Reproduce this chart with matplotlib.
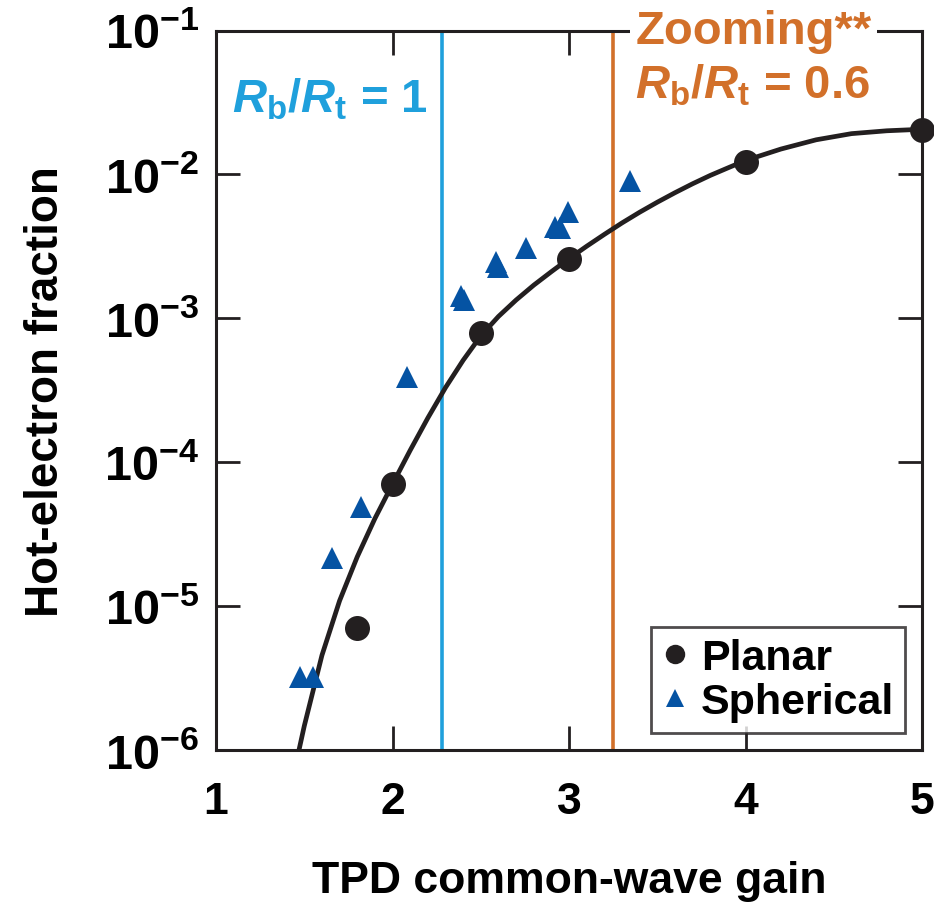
import matplotlib
matplotlib.use('Agg')
from matplotlib import pyplot as plt
from matplotlib.lines import Line2D

# values
planar_x = [1.8, 2.0, 2.5, 3.0, 4.0, 5.0]
planar_y = [7.1e-6, 7.1e-5, 7.85e-4, 2.57e-3, 1.22e-2, 2.03e-2]

spher_x = [1.475, 1.547, 1.658, 1.819, 2.083, 2.39, 2.404, 2.588, 2.60, 2.758, 2.918, 2.947, 2.994, 3.343]
spher_y = [3.2e-6, 3.2e-6, 2.16e-5, 4.9e-5, 3.88e-4, 1.43e-3, 1.35e-3, 2.45e-3, 2.29e-3,
           3.1e-3, 4.34e-3, 4.27e-3, 5.46e-3, 9.0e-3]

# fitted curve
fit_x = [1.47, 1.5, 1.6, 1.7, 1.8, 1.9, 2.0, 2.1, 2.2, 2.3, 2.4, 2.5, 2.6, 2.7, 2.8, 2.9,
         3.0, 3.1, 3.2, 3.3, 3.4, 3.5, 3.6, 3.7, 3.8, 3.9, 4.0, 4.2, 4.4, 4.6, 4.8, 5.0]
fit_y = [1.0e-6, 1.47e-6, 4.55e-6, 1.09e-5, 2.20e-5, 4.06e-5, 7.05e-5, 1.21e-4, 2.03e-4,
         3.30e-4, 5.11e-4, 7.55e-4, 1.03e-3, 1.34e-3, 1.70e-3, 2.11e-3, 2.60e-3, 3.17e-3,
         3.83e-3, 4.60e-3, 5.46e-3, 6.41e-3, 7.46e-3, 8.61e-3, 9.84e-3, 1.11e-2, 1.25e-2,
         1.50e-2, 1.74e-2, 1.92e-2, 2.01e-2, 2.06e-2]

blue_x = 2.28
orange_x = 3.25

xticks = [1, 2, 3, 4, 5]
yticks = [1e-6, 1e-5, 1e-4, 1e-3, 1e-2, 1e-1]
ytick_labels = [r'$\mathbf{10^{-%d}}$' % k for k in [6, 5, 4, 3, 2, 1]]

plt.rcParams['font.family'] = ['Liberation Sans', 'DejaVu Sans']
plt.rcParams['font.weight'] = 'bold'
plt.rcParams['mathtext.fontset'] = 'custom'
plt.rcParams['mathtext.rm'] = 'Liberation Sans:bold'
plt.rcParams['mathtext.bf'] = 'Liberation Sans:bold'
plt.rcParams['mathtext.it'] = 'Liberation Sans:bold:italic'

black = '#231f20'
blue = '#1fa0dc'
orange = '#d2702a'
tri = '#0553a3'

fig = plt.figure(figsize=(9.34, 9.03), dpi=100)
ax = fig.add_axes([0.2313, 0.1683, 0.7559, 0.7968])
ax.set_yscale('log')
ax.set_xlim(1, 5)
ax.set_ylim(1e-6, 1e-1)

ax.axvline(blue_x, color=blue, lw=2.6, zorder=2)
ax.axvline(orange_x, color=orange, lw=2.6, zorder=2)
ax.plot(fit_x, fit_y, color=black, lw=3.4, zorder=3, solid_capstyle='butt')
ax.plot(spher_x, spher_y, '^', color=tri, ms=16, mew=0, zorder=4, clip_on=False)
ax.plot(planar_x, planar_y, 'o', color=black, ms=18, mew=0, zorder=5, clip_on=False)

for s in ax.spines.values():
    s.set_linewidth(2.2)
    s.set_color(black)
ax.tick_params(which='major', direction='in', length=17, width=2, color=black,
               top=True, right=True, labelsize=32)
ax.tick_params(which='minor', left=False, right=False)
ax.set_xticks(xticks)
ax.set_xticklabels([str(t) for t in xticks])
ax.set_yticks(yticks)
ax.set_yticklabels(ytick_labels)
ax.tick_params(axis='x', pad=22)
ax.tick_params(axis='y', pad=12, labelsize=35)

ax.set_xlabel('TPD common-wave gain', fontsize=32, fontweight='bold', labelpad=28)
ax.set_ylabel('Hot-electron fraction', fontsize=33, fontweight='bold')
ax.yaxis.set_label_coords(-0.21, 0.5)

ax.text(0.022, 0.905, r'$\mathit{R}_\mathrm{b}/\mathit{R}_\mathrm{t}$ = 1', transform=ax.transAxes,
        color=blue, fontsize=34, fontweight='bold', ha='left', va='center')
ax.text(0.594, 1.0, 'Zooming**', transform=ax.transAxes, color=orange, fontsize=34,
        fontweight='bold', ha='left', va='center', zorder=10,
        bbox=dict(facecolor='white', edgecolor='none', pad=4))
ax.text(0.594, 0.925, r'$\mathit{R}_\mathrm{b}/\mathit{R}_\mathrm{t}$ = 0.6', transform=ax.transAxes,
        color=orange, fontsize=34, fontweight='bold', ha='left', va='center')

handles = [Line2D([], [], ls='none', marker='o', color=black, ms=14, mew=0),
           Line2D([], [], ls='none', marker='^', color=tri, ms=13, mew=0)]
leg = ax.legend(handles, ['Planar', 'Spherical'], loc='lower right', fontsize=31,
                frameon=True, fancybox=False, handlelength=0.6, handletextpad=0.3,
                borderpad=0.25, labelspacing=0.1, borderaxespad=0.4)
leg.get_frame().set_edgecolor(black)
leg.get_frame().set_linewidth(2)

fig.savefig('out.png', dpi=100)
